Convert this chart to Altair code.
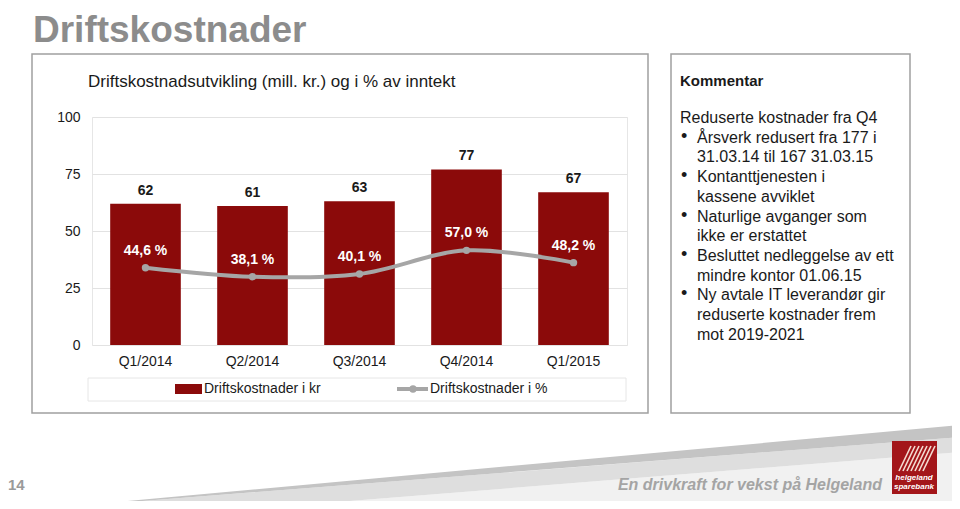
import altair as alt
import pandas as pd

# ---------------- data ----------------
quarters = ["Q1/2014", "Q2/2014", "Q3/2014", "Q4/2014", "Q1/2015"]
costs = [62, 61, 63, 77, 67]
pcts = [44.6, 38.1, 40.1, 57.0, 48.2]
pct_labels = ["44,6 %", "38,1 %", "40,1 %", "57,0 %", "48,2 %"]
y_ticks = [0, 25, 50, 75, 100]

slide_title = "Driftskostnader"
chart_title = "Driftskostnadsutvikling (mill. kr.) og i % av inntekt"
legend_labels = ["Driftskostnader i kr", "Driftskostnader i %"]
comment_heading = "Kommentar"
comment_texts = [
    "Reduserte kostnader fra Q4",
    "Årsverk redusert fra 177 i",
    "31.03.14 til 167 31.03.15",
    "Kontanttjenesten i",
    "kassene avviklet",
    "Naturlige avganger som",
    "ikke er erstattet",
    "Besluttet nedleggelse av ett",
    "mindre kontor 01.06.15",
    "Ny avtale IT leverandør gir",
    "reduserte kostnader frem",
    "mot 2019-2021",
]
comment_bullets = ["", "•", "", "•", "", "•", "", "•", "", "•", "", ""]
comment_levels = [0, 1, 1, 1, 1, 1, 1, 1, 1, 1, 1, 1]
footer_text = "En drivkraft for vekst på Helgeland"
page_number = "14"
logo_lines = ["helgeland", "sparebank"]

# ---------------- styling / layout ----------------
FONT = "Liberation Sans"
BAR = "#8B0A0A"
LINE = "#A6A6A6"
TXT = "#1a1a1a"
BOX = "#a0a0a0"

OX, OY = 92, 117          # plot-area origin in page pixels
W, H = 535, 228           # plot-area size
PCT_DOMAIN = [-10.7, 152.4]


def rx(px):
    return px - OX


def ry(py):
    return py - OY


one = alt.Data(values=[{"a": 1}])


def label(text, x, y, size=14, weight="normal", color=TXT, align="left",
          style="normal", baseline="middle"):
    return alt.Chart(one).mark_text(
        text=text, font=FONT, fontSize=size, fontWeight=weight, color=color,
        align=align, baseline=baseline, fontStyle=style
    ).encode(x=alt.value(rx(x)), y=alt.value(ry(y)))


def box(x1, y1, x2, y2, stroke=BOX, width=1.5, fill=None):
    kw = dict(stroke=stroke, strokeWidth=width)
    if fill:
        kw["fill"] = fill
    else:
        kw["filled"] = False
    return alt.Chart(one).mark_rect(**kw).encode(
        x=alt.value(rx(x1)), x2=alt.value(rx(x2)),
        y=alt.value(ry(y1)), y2=alt.value(ry(y2)))


# ---------------- footer swoosh (decoration) ----------------
swoosh_dark = pd.DataFrame({"px": [rx(40), rx(960)], "top": [ry(509), ry(425)],
                            "bot": [ry(509), ry(437)]})
swoosh_mid = pd.DataFrame({"px": [rx(40), rx(250), rx(960)],
                           "top": [ry(509), ry(492.6), ry(437)],
                           "bot": [ry(509), ry(509), ry(452)]})
swoosh_light = pd.DataFrame({"px": [rx(250), rx(960)], "top": [ry(509), ry(452)],
                             "bot": [ry(509), ry(509)]})


def area(df, color):
    return alt.Chart(df).mark_area(color=color, interpolate="linear").encode(
        x=alt.X("px:Q", scale=None, axis=None),
        y=alt.Y("top:Q", scale=None, axis=None),
        y2="bot:Q")


deco = [
    area(swoosh_light, "#f1f1f1"),
    area(swoosh_mid, "#dedede"),
    area(swoosh_dark, "#c4c4c4"),
    box(32, 54, 648, 413),
    box(88, 378, 626, 401, stroke="#e6e6e6", width=1),
    box(671, 54, 910, 413),
]

# ---------------- main chart ----------------
df = pd.DataFrame({"quarter": quarters, "cost": costs, "pct": pcts,
                   "pct_label": pct_labels})

xenc = alt.X("quarter:N", sort=quarters,
             scale=alt.Scale(paddingInner=0.34, paddingOuter=0.17),
             axis=alt.Axis(title=None, labelAngle=0, labelFontSize=14,
                           labelFont=FONT, labelColor=TXT, labelPadding=9,
                           ticks=False, domain=False))

bars = alt.Chart(df).mark_bar(color=BAR).encode(
    x=xenc,
    y=alt.Y("cost:Q", scale=alt.Scale(domain=[0, 100], nice=False),
            axis=alt.Axis(values=y_ticks, title=None, ticks=False, domain=False,
                          gridColor="#e2e2e2", labelFontSize=14, labelFont=FONT,
                          labelColor=TXT, labelPadding=12)))

bar_text = alt.Chart(df).mark_text(
    font=FONT, fontSize=14, fontWeight="bold", color=TXT, dy=-13,
    baseline="middle").encode(
    x=xenc,
    y=alt.Y("cost:Q", scale=alt.Scale(domain=[0, 100], nice=False), axis=None),
    text="cost:Q")

pct_y = alt.Y("pct:Q", scale=alt.Scale(domain=PCT_DOMAIN, nice=False, zero=False),
              axis=None)

line = alt.Chart(df).mark_line(color=LINE, strokeWidth=4,
                               interpolate="cardinal").encode(x=xenc, y=pct_y)
pts = alt.Chart(df).mark_circle(color=LINE, size=55, opacity=1).encode(
    x=xenc, y=pct_y)
pct_text = alt.Chart(df).mark_text(
    font=FONT, fontSize=14, fontWeight="bold", color="white", dy=-17,
    baseline="middle").encode(x=xenc, y=pct_y, text="pct_label:N")

main = alt.layer(bars, bar_text, line, pts, pct_text).resolve_scale(y="independent")

# ---------------- legend ----------------
legend = [
    box(175, 384, 202, 394, stroke=BAR, width=0, fill=BAR),
    label(legend_labels[0], 204, 389),
    alt.Chart(one).mark_rule(color=LINE, strokeWidth=4).encode(
        x=alt.value(rx(397)), x2=alt.value(rx(428)), y=alt.value(ry(389))),
    alt.Chart(one).mark_circle(color=LINE, size=55, opacity=1).encode(
        x=alt.value(rx(413)), y=alt.value(ry(389))),
    label(legend_labels[1], 430, 389),
]

# ---------------- comment box ----------------
cdf = pd.DataFrame({"i": list(range(len(comment_texts))), "text": comment_texts,
                    "bullet": comment_bullets, "level": comment_levels})
comment_text = alt.Chart(cdf).transform_calculate(
    xp=f"datum.level == 0 ? {rx(680)} : {rx(697)}",
    yp=f"{ry(118)} + datum.i * 19.7",
).mark_text(font=FONT, fontSize=16, color=TXT, align="left",
            baseline="middle").encode(
    x=alt.X("xp:Q", scale=None, axis=None),
    y=alt.Y("yp:Q", scale=None, axis=None),
    text="text:N")
comment_bul = alt.Chart(cdf).transform_filter("datum.bullet != ''").transform_calculate(
    xp=f"{rx(681)}",
    yp=f"{ry(117)} + datum.i * 19.7",
).mark_text(font=FONT, fontSize=18, color=TXT, align="left",
            baseline="middle").encode(
    x=alt.X("xp:Q", scale=None, axis=None),
    y=alt.Y("yp:Q", scale=None, axis=None),
    text="bullet:N")

# ---------------- texts & logo ----------------
texts = [
    label(slide_title, 33, 42, size=37, weight="bold", color="#8c8c8c",
          baseline="alphabetic"),
    label(chart_title, 88, 82, size=17),
    label(comment_heading, 680, 81, size=15, weight="bold"),
    label(page_number, 8, 485, size=15, weight="bold", color="#9a9a9a"),
    label(footer_text, 882, 485, size=16, weight="bold", color="#a4a4a4",
          align="right", style="italic"),
    box(892, 441, 937, 494, stroke="#a3161a", width=0, fill="#a3161a"),
]
stripes = []
for k in range(7):
    stripes.append(alt.Chart(one).mark_rule(color="#f4dcd2", strokeWidth=1.6).encode(
        x=alt.value(rx(899 + 4 * k)), x2=alt.value(rx(911 + 4 * k)),
        y=alt.value(ry(471)), y2=alt.value(ry(446))))
logo_text = [
    label(logo_lines[0], 914, 478, size=8, weight="bold", color="white",
          align="center", style="italic"),
    label(logo_lines[1], 914, 487, size=8, weight="bold", color="white",
          align="center", style="italic"),
]

chart = alt.layer(
    *deco, main, *legend, comment_text, comment_bul, *texts, *stripes, *logo_text
).properties(
    width=W, height=H, autosize="none",
    padding={"left": OX - 8, "top": OY - 8, "right": 944 - (OX - 8) - W,
             "bottom": 493 - (OY - 8) - H},
    background="white",
).configure_view(stroke="#e6e6e6")

chart.save("out.html", embed_options={"renderer": "svg", "actions": False})
